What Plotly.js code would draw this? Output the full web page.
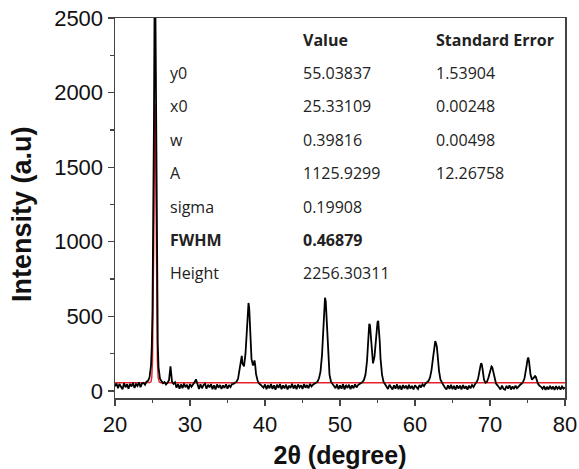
<!DOCTYPE html>
<html>
<head>
<meta charset="utf-8">
<script src="https://cdn.plot.ly/plotly-3.0.1.min.js"></script>
<style>html,body{margin:0;padding:0;background:#fff;}#chart{width:579px;height:469px;}</style>
</head>
<body>
<div id="chart"></div>
<script>
// Measured XRD pattern (2θ in degrees, intensity in a.u.)
const twoTheta = [
  20.0,20.2,20.4,20.6,20.8,21.0,21.2,21.4,21.6,21.8,22.0,22.2,22.4,22.6,22.8,23.0,23.2,23.4,23.6,23.8,24.0,24.2,24.4,
  24.6,24.8,24.9,25.0,25.1,25.2,25.27,25.33,25.4,25.5,25.6,25.7,25.8,25.9,26.0,26.2,26.4,26.6,26.8,27.0,27.2,27.4,27.5,27.6,27.8,
  28.0,28.2,28.4,28.6,28.8,29.0,29.2,29.4,29.6,29.8,30.0,30.2,30.4,30.6,30.8,31.0,31.2,31.4,31.6,31.8,32.0,32.2,32.4,32.6,32.8,33.0,33.2,33.4,33.6,33.8,34.0,34.2,34.4,34.6,34.8,35.0,35.2,35.4,35.6,
  35.8,36.0,36.2,36.4,36.6,36.8,36.9,37.0,37.2,37.4,37.6,37.7,37.8,37.9,38.0,38.2,38.4,38.5,38.6,38.7,38.8,39.0,39.2,39.4,39.6,
  39.8,40.0,40.2,40.4,40.6,40.8,41.0,41.2,41.4,41.6,41.8,42.0,42.2,42.4,42.6,42.8,43.0,43.2,43.4,43.6,43.8,44.0,44.2,44.4,44.6,44.8,45.0,45.2,45.4,45.6,45.8,46.0,46.2,46.4,46.6,46.8,
  47.0,47.2,47.4,47.6,47.7,47.8,47.9,48.0,48.1,48.2,48.3,48.4,48.6,48.8,49.0,
  49.2,49.4,49.6,49.8,50.0,50.2,50.4,50.6,50.8,51.0,51.2,51.4,51.6,51.8,52.0,52.2,52.4,52.6,52.8,53.0,
  53.2,53.4,53.6,53.7,53.8,53.9,54.0,54.1,54.2,54.4,54.6,54.8,54.9,55.0,55.1,55.2,55.3,55.4,55.6,55.8,56.0,
  56.2,56.4,56.6,56.8,57.0,57.2,57.4,57.6,57.8,58.0,58.2,58.4,58.6,58.8,59.0,59.2,59.4,59.6,59.8,60.0,60.2,60.4,60.6,60.8,61.0,61.2,61.4,61.6,
  61.8,62.0,62.2,62.4,62.5,62.6,62.7,62.8,62.9,63.0,63.1,63.2,63.4,63.6,63.8,
  64.0,64.2,64.4,64.6,64.8,65.0,65.2,65.4,65.6,65.8,66.0,66.2,66.4,66.6,66.8,67.0,67.2,67.4,67.6,67.8,68.0,68.2,
  68.4,68.6,68.7,68.8,68.9,69.0,69.1,69.2,69.4,69.6,69.8,70.0,70.1,70.2,70.3,70.4,70.5,70.6,70.8,71.0,
  71.2,71.4,71.6,71.8,72.0,72.2,72.4,72.6,72.8,73.0,73.2,73.4,73.6,73.8,74.0,74.2,74.4,
  74.6,74.8,74.9,75.0,75.1,75.2,75.3,75.4,75.6,75.8,76.0,76.1,76.2,76.4,76.6,76.8,
  77.0,77.2,77.4,77.6,77.8,78.0,78.2,78.4,78.6,78.8,79.0,79.2,79.4,79.6,79.8,80.0
];
const intensity = [
  32,50,18,48,28,12,52,25,45,15,48,30,55,20,46,34,58,26,50,55,42,62,68,
  90,170,290,540,1020,1850,2550,2700,2480,1480,680,320,160,105,82,66,52,60,44,55,72,165,120,62,48,
  58,22,47,15,44,18,50,25,42,12,46,28,40,58,78,38,14,45,18,40,48,15,42,24,46,12,38,10,44,22,40,14,38,20,45,16,40,26,46,
  48,55,62,80,135,210,235,185,165,250,430,540,590,550,390,215,170,185,205,170,115,72,50,42,35,
  22,44,12,40,18,46,14,38,8,42,20,46,12,38,18,42,10,36,20,48,16,40,12,44,24,38,14,46,22,40,18,48,30,42,48,55,
  62,85,130,240,350,480,590,625,600,500,360,240,110,62,45,
  30,18,44,12,38,16,46,10,40,20,42,12,38,18,44,24,40,45,52,60,
  75,110,200,300,400,450,440,380,290,185,230,350,430,460,470,420,330,220,110,62,45,
  32,14,42,20,10,38,16,44,12,36,8,40,18,36,12,42,16,34,10,38,22,14,40,24,44,32,50,58,
  68,90,140,220,270,300,335,320,300,250,190,135,75,50,38,
  22,10,38,14,42,12,34,8,38,16,36,10,40,16,32,9,36,18,40,26,45,58,
  80,120,160,185,180,150,110,75,55,62,90,130,155,165,160,140,110,80,50,38,
  22,10,36,14,8,34,16,38,10,30,14,36,18,32,40,48,60,
  85,130,175,210,225,200,150,110,75,85,100,95,75,48,35,28,
  14,32,8,28,10,34,12,30,8,32,14,28,10,30,16,24
];

// Gaussian fit curve (red)
const fitX = [20, 24.6, 24.8, 24.9, 25.0, 25.1, 25.2, 25.27, 25.33, 25.4, 25.47, 25.55, 25.65, 25.75, 25.9, 26.1, 80];
const fitY = [55, 56, 62, 90, 200, 520, 1150, 1700, 1920, 1700, 1150, 560, 200, 90, 60, 55, 55];

// Fit parameter table
const tableHeaders = ["Value", "Standard Error"];
const paramNames = ["y0", "x0", "w", "A", "sigma", "FWHM", "Height"];
const paramValues = ["55.03837", "25.33109", "0.39816", "1125.9299", "0.19908", "0.46879", "2256.30311"];
const paramErrors = ["1.53904", "0.00248", "0.00498", "12.26758", "", "", ""];
const boldParams = ["FWHM"];

const xTickVals = [20, 30, 40, 50, 60, 70, 80];
const yTickVals = [0, 500, 1000, 1500, 2000, 2500];
const xTitle = "2θ (degree)";
const yTitle = "Intensity (a.u)";

const plotL = 115, plotR = 565, plotT = 18, plotB = 398;
const colX = [168, 301, 434];
const headerY = 40, rowY0 = 73, rowStep = 33.4;
const px = v => (v - plotL) / (plotR - plotL);
const py = v => 1 - (v - plotT) / (plotB - plotT);

const tableFont = {family: "Open Sans, sans-serif", size: 16, color: "#222"};
const annotations = [];
tableHeaders.forEach((h, i) => {
  annotations.push({xref: "paper", yref: "paper", x: px(colX[i + 1]), y: py(headerY),
    xanchor: "left", yanchor: "middle", showarrow: false, text: "<b>" + h + "</b>", font: tableFont});
});
paramNames.forEach((n, i) => {
  const b = boldParams.includes(n);
  const wrap = s => b ? "<b>" + s + "</b>" : s;
  const y = py(rowY0 + i * rowStep);
  [n, paramValues[i], paramErrors[i]].forEach((t, c) => {
    if (!t) return;
    annotations.push({xref: "paper", yref: "paper", x: px(colX[c]), y: y,
      xanchor: "left", yanchor: "middle", showarrow: false, text: wrap(t), font: tableFont});
  });
});
// y-axis title placed as a rotated annotation for exact position
annotations.push({xref: "paper", yref: "paper", x: px(22), y: py(214), xanchor: "center", yanchor: "middle",
  textangle: -90, showarrow: false, text: "<b>" + yTitle + "</b>",
  font: {family: "Liberation Sans, Arial, sans-serif", size: 27, color: "#111"}});

const axisCommon = {
  showgrid: false, zeroline: false, showline: true, linecolor: "#444", linewidth: 1.5,
  mirror: true, ticks: "outside", ticklen: 6, tickwidth: 1.2, tickcolor: "#444",
  tickfont: {family: "Liberation Sans, Arial, sans-serif", size: 22, color: "#111"},
  minor: {ticks: "outside", ticklen: 3.5, tickwidth: 1.2, tickcolor: "#444", showgrid: false}
};

const data = [
  {x: fitX, y: fitY, type: "scatter", mode: "lines", line: {color: "#e8212a", width: 1.4}, hoverinfo: "skip"},
  {x: twoTheta, y: intensity, type: "scatter", mode: "lines", line: {color: "#000", width: 1.8}, hoverinfo: "skip"}
];

const layout = {
  width: 579, height: 469,
  margin: {l: plotL, r: 579 - plotR, t: plotT, b: 469 - plotB},
  paper_bgcolor: "#fff", plot_bgcolor: "#fff",
  showlegend: false,
  xaxis: Object.assign({}, axisCommon, {
    range: [20, 80], tickvals: xTickVals, ticktext: xTickVals.map(String),
    minor: Object.assign({}, axisCommon.minor, {dtick: 5}),
    title: {text: "<b>" + xTitle + "</b>", font: {family: "Liberation Sans, Arial, sans-serif", size: 25, color: "#111"}, standoff: 14}
  }),
  yaxis: Object.assign({}, axisCommon, {
    range: [-47, 2500], tickvals: yTickVals, ticktext: yTickVals.map(String),
    minor: Object.assign({}, axisCommon.minor, {dtick: 250})
  }),
  annotations: annotations
};

Plotly.newPlot("chart", data, layout, {displayModeBar: false, staticPlot: true});
</script>
</body>
</html>
